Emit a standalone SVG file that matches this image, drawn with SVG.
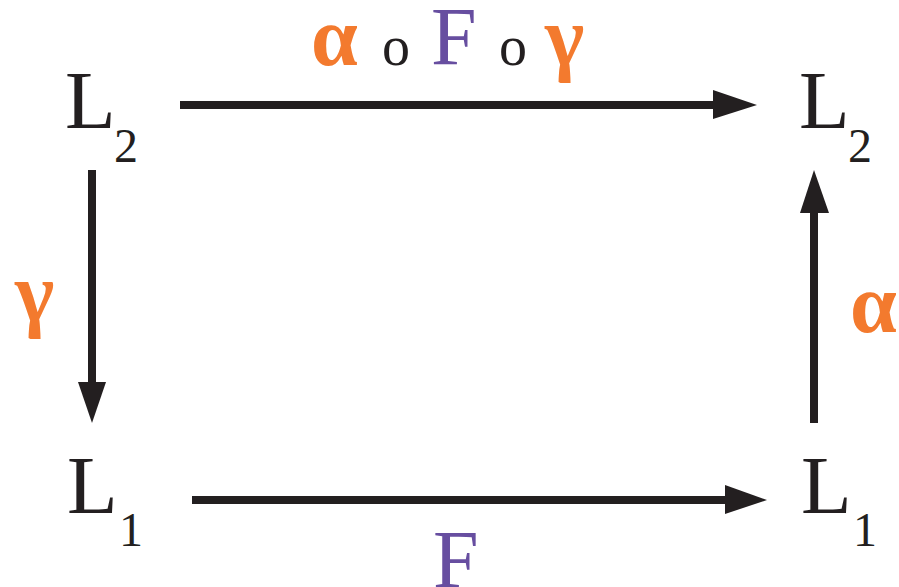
<svg xmlns="http://www.w3.org/2000/svg" width="899" height="587" viewBox="0 0 899 587">
<style>
text{font-family:"Liberation Serif","Times New Roman",serif;}
.n{fill:#231f20;font-size:83px;}
.s{fill:#231f20;font-size:48px;}
.o{fill:#f37a2e;font-size:84px;font-weight:bold;}
.p{fill:#674ea0;font-size:82px;}
.c{fill:#231f20;font-size:56px;}
.ln{stroke:#231f20;stroke-width:8;fill:none;}
.ah{fill:#231f20;}
</style>
<rect width="899" height="587" fill="#ffffff"/>
<g id="n-L2-left"><text class="n" x="65" y="128">L</text><text class="s" x="114" y="162">2</text></g>
<g id="n-L2-right"><text class="n" x="799" y="128">L</text><text class="s" x="848" y="162">2</text></g>
<g id="n-L1-left"><text class="n" x="67" y="513">L</text><text class="s" x="119" y="546">1</text></g>
<g id="n-L1-right"><text class="n" x="801" y="513">L</text><text class="s" x="853" y="546">1</text></g>
<g id="connectors">
<line class="ln" x1="180" y1="105" x2="715" y2="105"/>
<polygon class="ah" points="713,90 757,105 713,119"/>
<line class="ln" x1="192" y1="500" x2="727" y2="500"/>
<polygon class="ah" points="725,485 767,500 725,514"/>
<line class="ln" x1="92" y1="170" x2="92" y2="384"/>
<polygon class="ah" points="78,382 106,382 92,423"/>
<line class="ln" x1="814" y1="423" x2="814" y2="211"/>
<polygon class="ah" points="800,213 829,213 814,170"/>
</g>
<g id="labels">
<text class="o" x="311" y="65">α</text>
<text class="c" x="382" y="65">o</text>
<text class="p" x="431" y="64">F</text>
<text class="c" x="499" y="65">o</text>
<text class="o" x="545" y="65">γ</text>
<text class="o" x="15" y="321">γ</text>
<text class="o" x="850" y="332">α</text>
<text class="p" x="433" y="587">F</text>
</g>
</svg>
